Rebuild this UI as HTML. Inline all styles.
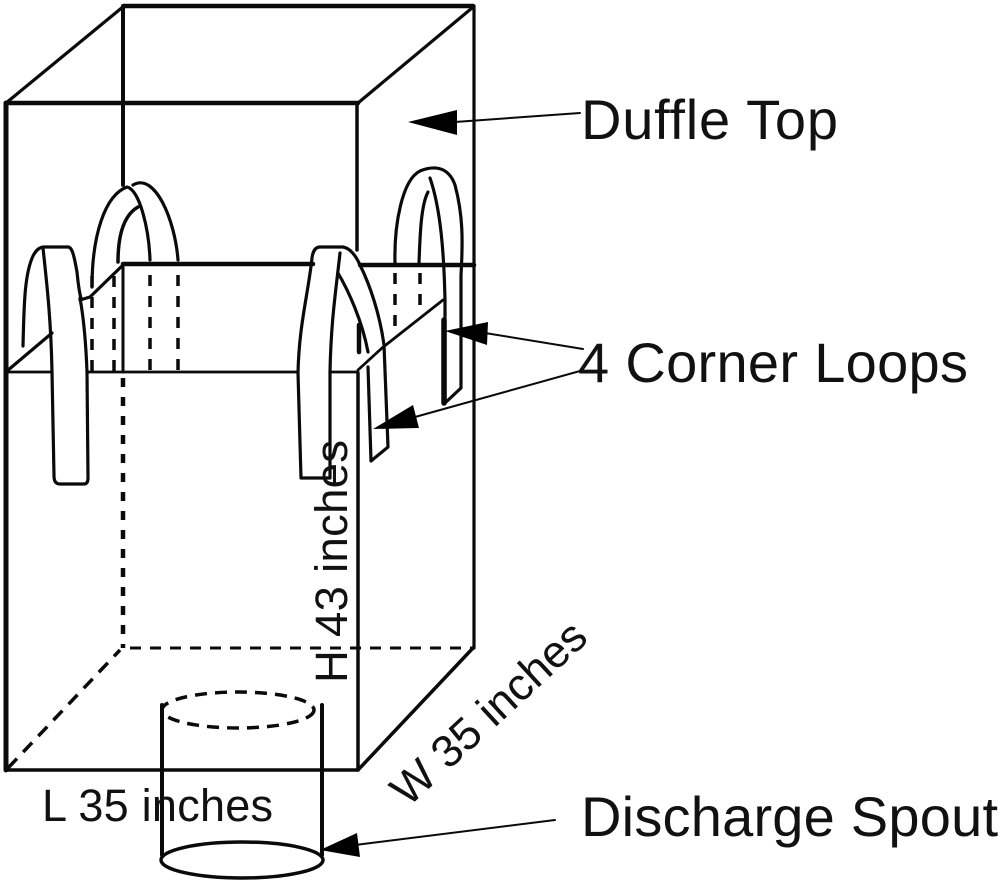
<!DOCTYPE html>
<html><head><meta charset="utf-8"><style>
html,body{margin:0;padding:0;background:#fff}
svg{display:block}
text{font-family:"Liberation Sans",sans-serif;fill:#111}
</style></head><body>
<svg width="1000" height="884" viewBox="0 0 1000 884" xmlns="http://www.w3.org/2000/svg">
<rect width="1000" height="884" fill="#fff"/>
<g fill="none" stroke="#0a0a0a" stroke-width="3.2" stroke-linejoin="round" stroke-linecap="round">
<!-- box -->
<path d="M6 103H358M124 6H473" stroke-width="4.5"/>
<path d="M6 103L124 6M358 103L472 8"/>
<path d="M6 103V770" stroke-width="5"/>
<path d="M123 6V185" stroke-width="4"/>
<path d="M357 103V250M358 373V770" stroke-width="3.5"/>
<path d="M474 6V648"/>
<path d="M6 770H358L473 648" stroke-width="3.5"/>
<path d="M123 264H313M360 265H474" stroke-width="4.5"/>
<path d="M6 372H52M87 372H298M330 372H358" stroke-width="2.8"/>
<path d="M7 371L52 333M80 300L90 297L123 265"/>
<path d="M358 370L382 348L443 300" stroke-width="2.8"/>
<!-- dashed -->
<path d="M123 265V372" stroke-width="3"/>
<path d="M123 378V648" stroke-dasharray="9 10" stroke-width="4.5" stroke-linecap="butt"/>
<path d="M130 648H473" stroke-dasharray="11 9" stroke-width="3" stroke-linecap="butt"/>
<path d="M8 768L120 650" stroke-dasharray="13 9" stroke-width="3.5" stroke-linecap="butt"/>
<g stroke-dasharray="11 10" stroke-width="3.5" stroke-linecap="butt">
<path d="M92 276V372M114 276V372M150 275V372M178 275V372M395 273V335M420 273V305"/>
</g>
<!-- front-left loop -->
<path d="M23 346C24 310 24 275 33 256C36 250 40 247 44 247H68C72 247 74 255 77 272C78 282 79 292 81 298"/>
<path d="M43 248C47 285 51 320 52 372L54 476Q54 484 60 484H84Q88 484 88 478L87 372C86 345 84 320 80 298"/>
<!-- back-left loop -->
<path d="M92 287C92 235 105 195 127 187C140 190 149 230 150 260"/>
<path d="M133 185C155 172 175 220 178 260"/>
<path d="M118 262C118 235 124 215 138 207" stroke-width="3.5"/>
<!-- front-right loop -->
<path d="M340 253C336 290 331 320 330 372V478H301L298 373C299 325 308 295 312 258C313 250 316 247 320 247H343C350 248 356 256 360 265C370 285 380 315 384 345L388 447L371 461L368 367"/>
<path d="M338 273C348 290 362 320 368 352"/>
<path d="M359 325L359 352" stroke-width="4.5"/>
<!-- back-right loop -->
<path d="M395 263C394 225 402 180 420 171C432 166 448 165 455 185C463 215 463 240 461 275V388L445 403V300C444 255 441 210 430 178"/>
<path d="M419 263C420 235 421 205 428 192"/>
<path d="M444 320V403" stroke-width="5.5"/>
<!-- spout -->
<path d="M162 705V855M322 705V855" stroke-width="4"/>
<ellipse cx="238" cy="710" rx="76" ry="18" stroke-dasharray="12 8" stroke-width="3.5" stroke-linecap="butt"/>
<ellipse cx="242" cy="860" rx="81" ry="18" stroke-width="3.5"/>
<!-- leader lines -->
<path d="M580 113L455 122M583 349L485 333M580 371L415 417M555 820L355 845" stroke-width="2"/>
</g>
<g fill="#000">
<path d="M408 122L457 110V135Z"/>
<path d="M445 331L488 322L487 345Z"/>
<path d="M373 429L413 405L419 428Z"/>
<path d="M320 850L357 833L360 857Z"/>
</g>
<text x="581" y="139" font-size="56" textLength="257" lengthAdjust="spacing">Duffle Top</text>
<text x="578" y="382" font-size="56" textLength="390" lengthAdjust="spacing">4 Corner Loops</text>
<text x="581" y="836" font-size="56" textLength="417" lengthAdjust="spacing">Discharge Spout</text>
<text x="42" y="821" font-size="45" textLength="231" lengthAdjust="spacing">L 35 inches</text>
<text transform="translate(347 683) rotate(-90)" font-size="45.5" textLength="243" lengthAdjust="spacing">H 43 inches</text>
<text transform="translate(408 808) rotate(-42.7)" font-size="45">W 35 inches</text>
</svg>
</body></html>
